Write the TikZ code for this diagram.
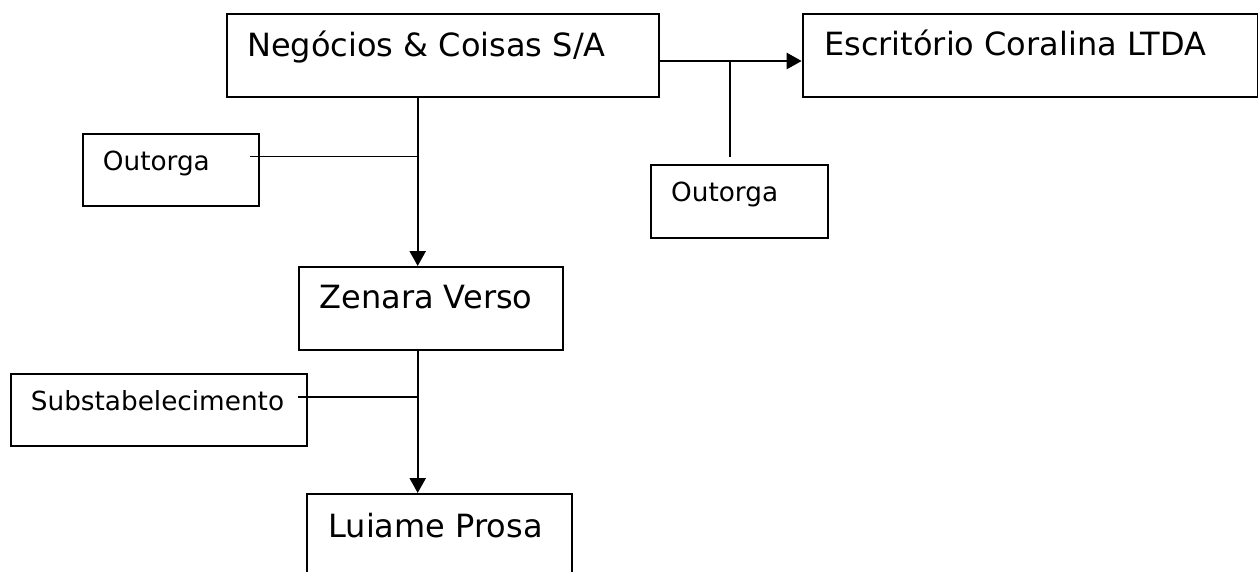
\documentclass[tikz,border=0pt]{standalone}
\usepackage{fontspec}
\setmainfont{DejaVu Sans}
\usetikzlibrary{arrows.meta}
\tikzset{
  box/.style={draw=black, line width=2pt, inner sep=0pt, anchor=north west},
  big/.style={anchor=base west, inner sep=0pt, font=\fontsize{32}{38}\selectfont},
  small/.style={anchor=base west, inner sep=0pt, font=\fontsize{26.3}{32}\selectfont},
  mainline/.style={line width=2.4pt, -{Triangle[length=15pt,width=16pt]}},
  thinline/.style={line width=1.6pt}
}
\begin{document}
\begin{tikzpicture}[x=1pt,y=-1pt]
\useasboundingbox (0,0) rectangle (1258,572);
\clip (0,0) rectangle (1258,572);
% boxes
\node[box, minimum width=432.6pt, minimum height=83.3pt] (neg) at (225.7,12.7) {};
\node[box, minimum width=455.3pt, minimum height=83.3pt] (esc) at (801.7,12.7) {};
\node[box, minimum width=176.6pt, minimum height=72.3pt] (out1) at (81.7,132.7) {};
\node[box, minimum width=176.7pt, minimum height=73pt] (out2) at (650,164.3) {};
\node[box, minimum width=264.6pt, minimum height=82.7pt] (zen) at (297.7,266) {};
\node[box, minimum width=296.3pt, minimum height=72.6pt] (sub) at (9.7,372.7) {};
\node[box, minimum width=264.8pt, minimum height=84pt] (lui) at (306,493) {};
% texts
\node[big] (negt) at (247,56.7) {Negócios \& Coisas S/A};
\node[big] (esct) at (824,56) {Escritório Coralina LTDA};
\node[small] (out1t) at (102.7,170.7) {Outorga};
\node[small] (out2t) at (671,201.7) {Outorga};
\node[big] (zent) at (319.3,308.7) {Zenara Verso};
\node[small] (subt) at (30.7,410.3) {Substabelecimento};
\node[big] (luit) at (328.3,537) {Luiame Prosa};
% junction coordinates
\coordinate (j1) at (417.7,156.7);
\coordinate (j2) at (730,61);
\coordinate (j2e) at (730,156.7);
\coordinate (j3) at (417.7,397);
\coordinate (o1e) at (250,156.7);
\coordinate (se) at (298.3,397);
% connectors
\draw[mainline] (j1 |- neg.south) -- (j1 |- zen.north);
\draw[thinline] (o1e) -- (j1);
\draw[mainline] (neg.east |- j2) -- (esc.west |- j2);
\draw[thinline] (j2) -- (j2e);
\draw[mainline] (j3 |- zen.south) -- (j3 |- lui.north);
\draw[thinline] (se) -- (j3);
\end{tikzpicture}
\end{document}
